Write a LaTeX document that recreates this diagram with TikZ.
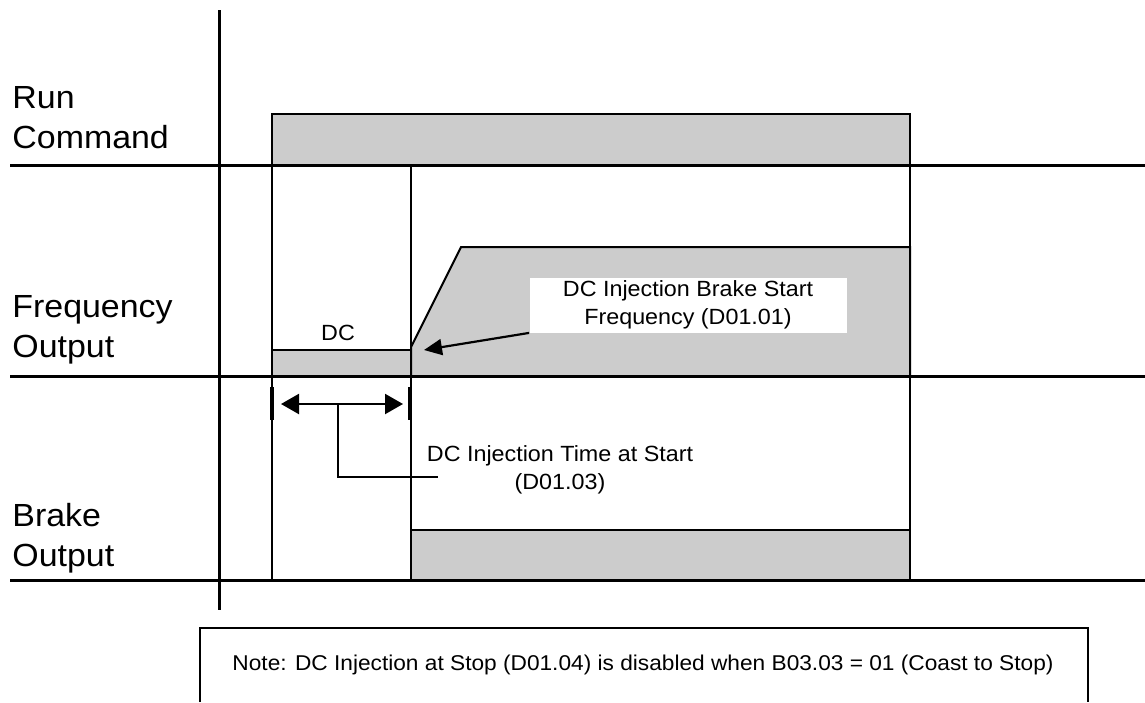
\documentclass[tikz,border=0pt]{standalone}
\usepackage{fontspec}
\setmainfont[FakeStretch=1.06]{Liberation Sans}
\usetikzlibrary{arrows.meta}
\definecolor{level}{gray}{0.8}
\tikzset{
  trace/.style={draw,line width=1pt,fill=level},
  axis/.style={line width=1.5pt},
  edge/.style={line width=1pt},
  marker/.style={line width=1.6pt},
  rowlabel/.style={anchor=west,align=left,inner sep=0pt,font=\fontsize{16}{20}\selectfont},
  tag/.style={align=center,inner sep=0pt,font=\fontsize{11}{14}\selectfont},
  pointer/.style={line width=1.1pt,-{Triangle[length=9pt,width=8pt]}},
}
\begin{document}
\begin{tikzpicture}[x=0.5pt,y=-0.5pt]
\useasboundingbox (0,0) rectangle (1145,702);
% signal levels
\draw[trace] (272,165) rectangle (910,114);
\draw[trace] (272,376) -- (272,350) -- (411,350) -- (411,376);
\draw[trace] (411,376) -- (411,347) -- (461,247) -- (910,247) -- (910,376);
\draw[trace] (411,580) rectangle (910,530);
% time axis and rows
\draw[axis] (219,10) -- (219,610);
\foreach \y in {165,376,580}
  \draw[axis] (10,\y) -- (1145,\y);
\foreach \x in {272,411,910}
  \draw[edge] (\x,165) -- (\x,580);
\node[rowlabel] (run) at (12,118) {Run\\Command};
\node[rowlabel] (freq) at (12,330) {Frequency\\Output};
\node[rowlabel] (brake) at (12,538) {Brake\\Output};
% start frequency
\node[tag] (dc) at (338,333) {DC};
\node[tag,fill=white,minimum width=158.5pt,minimum height=27.5pt] (startfreq) at (688,305)
  {DC Injection Brake Start\\Frequency (D01.01)};
\coordinate (rampfoot) at (424,350);
\draw[pointer] (startfreq.south west) -- (rampfoot);
% injection time
\coordinate (dcon) at (272,404);
\coordinate (dcoff) at (410,404);
\draw[marker] (dcon) ++(0,-17) -- ++(0,33);
\draw[marker] (dcoff) ++(0,-17) -- ++(0,33);
\draw[pointer,{Triangle[length=9pt,width=10pt]}-{Triangle[length=9pt,width=10pt]},
  shorten <=4.5pt,shorten >=3.5pt] (dcon) -- (dcoff);
\node[tag] (dctime) at (560,470) {DC Injection Time at Start\\(D01.03)};
\coordinate (spanmid) at (338,404);
\coordinate (leaderend) at (438,477);
\draw[edge] (spanmid) |- (leaderend);
% note
\draw[edge] (200,702) -- (200,628) -- (1088,628) -- (1088,702);
\node[tag,font=\fontsize{10.7}{13}\selectfont] (note) at (643,665)
  {Note: DC Injection at Stop (D01.04) is disabled when B03.03 = 01 (Coast to Stop)};
\end{tikzpicture}
\end{document}
